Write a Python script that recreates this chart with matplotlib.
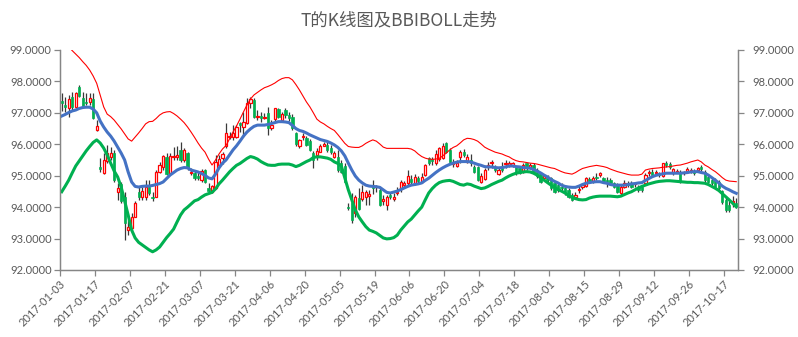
import numpy as np
import matplotlib
matplotlib.use("Agg")
import matplotlib.pyplot as plt

title = "T的K线图及BBIBOLL走势"

# one label every 10 trading days
tick_labels = ["2017-01-03", "2017-01-17", "2017-02-07", "2017-02-21", "2017-03-07",
               "2017-03-21", "2017-04-06", "2017-04-20", "2017-05-05", "2017-05-19",
               "2017-06-06", "2017-06-20", "2017-07-04", "2017-07-18", "2017-08-01",
               "2017-08-15", "2017-08-29", "2017-09-12", "2017-09-26", "2017-10-17"]

open_ = [97.39, 97.25, 97.14, 97.52, 97.20, 97.81, 97.46, 97.36, 97.33, 97.43,
         96.45, 95.29, 95.10, 95.48, 95.61, 95.73, 94.49, 94.74, 94.33, 93.27,
         93.33, 93.70, 94.49, 94.33, 94.31, 94.65, 94.33, 94.33, 95.13, 95.27,
         95.61, 95.10, 95.59, 95.59, 95.82, 95.50, 95.71, 95.08, 95.08, 95.00,
         94.86, 95.18, 94.62, 94.47, 94.60, 95.34, 95.55, 95.93, 96.23, 96.24,
         96.24, 96.67, 96.56, 96.67, 97.30, 97.41, 96.86, 96.91, 96.85, 96.99,
         96.51, 96.81, 97.12, 96.77, 97.09, 96.93, 96.88, 96.35, 95.93, 96.24,
         96.21, 96.11, 95.71, 95.66, 95.77, 95.96, 95.98, 95.87, 95.61, 95.61,
         95.39, 95.31, 94.02, 94.12, 93.80, 94.28, 94.25, 94.31, 94.36, 94.67,
         94.63, 94.53, 94.21, 94.07, 94.39, 94.25, 94.44, 94.57, 94.71, 94.76,
         94.89, 94.76, 94.92, 94.81, 95.02, 95.55, 95.52, 95.42, 95.52, 95.55,
         96.03, 95.82, 95.37, 95.31, 95.61, 95.77, 95.45, 95.50, 95.29, 95.29,
         94.81, 94.89, 95.29, 95.39, 95.29, 95.05, 95.24, 95.36, 95.35, 95.34,
         95.27, 95.24, 95.13, 95.39, 95.29, 95.34, 95.18, 95.08, 94.92, 94.97,
         94.92, 94.76, 94.71, 94.65, 94.60, 94.55, 94.39, 94.33, 94.53, 94.63,
         94.67, 94.89, 94.84, 94.97, 95.02, 94.92, 94.86, 94.86, 94.76, 94.71,
         94.44, 94.63, 94.78, 94.78, 94.73, 94.65, 94.65, 94.76, 95.08, 95.13,
         95.08, 95.08, 94.99, 95.42, 95.37, 95.08, 95.12, 95.13, 95.08, 95.16,
         95.14, 95.16, 95.18, 95.27, 95.13, 94.97, 94.86, 94.86, 94.81, 94.50,
         94.23, 94.07, 94.12, 94.12]

high = [97.62, 97.52, 97.57, 97.67, 97.67, 97.89, 97.67, 97.62, 97.62, 97.64,
        96.77, 95.55, 95.71, 95.98, 95.92, 95.82, 94.76, 94.81, 94.49, 93.59,
        93.80, 94.18, 94.65, 94.65, 94.86, 94.86, 94.49, 95.18, 95.45, 95.66,
        95.71, 95.71, 95.92, 95.95, 96.08, 95.87, 95.77, 95.24, 95.18, 95.11,
        95.21, 95.21, 94.76, 94.70, 95.66, 95.66, 95.74, 96.67, 96.40, 96.61,
        96.61, 96.70, 97.04, 97.46, 97.52, 97.46, 97.09, 97.04, 96.99, 97.20,
        96.77, 97.17, 97.17, 97.02, 97.14, 97.04, 96.95, 96.40, 96.17, 96.35,
        96.27, 96.17, 95.79, 95.89, 96.00, 96.08, 96.06, 95.98, 95.79, 95.82,
        95.50, 95.39, 94.12, 94.44, 94.39, 94.60, 94.70, 94.55, 94.55, 94.86,
        94.71, 94.60, 94.39, 94.39, 94.46, 94.44, 94.65, 94.86, 94.84, 95.18,
        95.02, 95.06, 94.99, 95.10, 95.37, 95.61, 95.61, 95.82, 95.90, 96.03,
        96.08, 95.87, 95.52, 95.50, 95.82, 95.84, 95.69, 95.68, 95.34, 95.31,
        95.08, 95.24, 95.45, 95.50, 95.34, 95.24, 95.45, 95.50, 95.48, 95.45,
        95.31, 95.29, 95.39, 95.42, 95.39, 95.39, 95.24, 95.13, 95.02, 95.02,
        94.97, 94.81, 94.76, 94.76, 94.65, 94.60, 94.44, 94.49, 94.71, 94.78,
        94.97, 94.97, 94.99, 95.08, 95.13, 94.97, 94.97, 94.92, 94.81, 94.76,
        94.71, 94.86, 94.84, 94.84, 94.81, 94.71, 94.71, 95.08, 95.18, 95.20,
        95.18, 95.13, 95.42, 95.48, 95.45, 95.24, 95.20, 95.18, 95.16, 95.27,
        95.24, 95.20, 95.29, 95.34, 95.18, 95.02, 94.92, 94.92, 94.86, 94.55,
        94.34, 94.18, 94.34, 94.29]

low = [97.07, 97.04, 96.86, 97.07, 97.14, 97.49, 97.20, 97.25, 97.25, 96.81,
       96.43, 95.13, 95.06, 95.39, 95.50, 94.81, 94.23, 94.12, 92.96, 93.11,
       93.27, 93.68, 94.23, 94.23, 94.23, 94.39, 94.18, 94.31, 95.08, 95.18,
       95.02, 95.08, 95.50, 95.50, 95.45, 95.45, 95.18, 95.02, 94.86, 94.86,
       94.81, 94.76, 94.49, 94.44, 94.58, 95.32, 95.36, 95.89, 96.17, 96.14,
       96.19, 96.40, 96.24, 96.64, 97.14, 96.85, 96.77, 96.72, 96.81, 96.30,
       96.45, 96.74, 96.83, 96.74, 96.83, 96.74, 96.45, 95.96, 95.89, 96.14,
       95.93, 95.79, 95.26, 95.50, 95.75, 95.93, 95.77, 95.68, 95.55, 95.13,
       95.08, 94.76, 93.91, 93.49, 93.70, 93.91, 94.21, 94.07, 94.07, 94.42,
       94.49, 94.04, 94.07, 93.91, 94.25, 94.18, 94.39, 94.49, 94.65, 94.71,
       94.74, 94.71, 94.78, 94.78, 94.99, 95.34, 95.34, 95.34, 95.48, 95.52,
       95.71, 95.39, 95.29, 95.29, 95.39, 95.61, 95.39, 95.31, 95.08, 94.84,
       94.78, 94.86, 95.18, 95.24, 95.13, 95.02, 95.13, 95.24, 95.29, 95.29,
       95.02, 95.05, 95.10, 95.18, 95.20, 95.06, 94.92, 94.78, 94.86, 94.76,
       94.55, 94.44, 94.49, 94.55, 94.39, 94.28, 94.18, 94.25, 94.44, 94.57,
       94.65, 94.76, 94.78, 94.86, 94.97, 94.76, 94.65, 94.70, 94.60, 94.46,
       94.39, 94.60, 94.65, 94.60, 94.65, 94.49, 94.49, 94.71, 94.99, 94.97,
       95.02, 94.97, 94.97, 95.29, 95.20, 95.02, 95.08, 94.78, 95.02, 95.10,
       95.10, 95.02, 95.13, 95.16, 94.81, 94.78, 94.71, 94.60, 94.55, 94.10,
       93.86, 93.86, 94.02, 93.96]

close = [97.30, 97.20, 97.43, 97.20, 97.62, 97.54, 97.23, 97.30, 97.46, 96.83,
         96.58, 95.22, 95.50, 95.73, 95.71, 94.86, 94.60, 94.21, 93.49, 93.38,
         93.70, 94.14, 94.33, 94.52, 94.65, 94.46, 94.29, 95.13, 95.34, 95.63,
         95.06, 95.63, 95.63, 95.65, 95.50, 95.82, 95.24, 95.12, 94.92, 94.92,
         95.15, 94.81, 94.51, 94.68, 95.45, 95.52, 95.68, 96.35, 96.27, 96.35,
         96.56, 96.61, 96.70, 97.30, 97.44, 96.88, 96.89, 96.83, 96.88, 96.51,
         96.61, 97.14, 96.88, 96.95, 96.93, 96.85, 96.51, 96.00, 96.14, 96.27,
         95.98, 95.82, 95.50, 95.79, 95.93, 96.00, 95.82, 95.75, 95.71, 95.18,
         95.13, 94.81, 93.96, 93.59, 94.31, 93.93, 94.49, 94.49, 94.42, 94.61,
         94.67, 94.07, 94.25, 94.31, 94.31, 94.31, 94.49, 94.81, 94.76, 94.99,
         94.81, 94.97, 94.84, 94.97, 95.34, 95.39, 95.48, 95.69, 95.87, 95.93,
         95.77, 95.45, 95.45, 95.42, 95.77, 95.66, 95.61, 95.40, 95.13, 94.86,
         94.99, 95.18, 95.34, 95.44, 95.18, 95.18, 95.18, 95.42, 95.39, 95.39,
         95.08, 95.08, 95.34, 95.24, 95.34, 95.08, 94.99, 94.81, 94.99, 94.86,
         94.60, 94.49, 94.55, 94.60, 94.44, 94.33, 94.23, 94.39, 94.59, 94.70,
         94.92, 94.84, 94.92, 94.92, 95.08, 94.81, 94.81, 94.76, 94.65, 94.49,
         94.65, 94.78, 94.71, 94.65, 94.76, 94.55, 94.55, 95.02, 95.11, 95.02,
         95.13, 95.03, 95.40, 95.34, 95.29, 95.20, 95.16, 94.81, 95.13, 95.20,
         95.18, 95.08, 95.24, 95.20, 94.86, 94.81, 94.76, 94.65, 94.60, 94.15,
         93.91, 93.91, 94.18, 94.04]

# BBI middle line and the two BOLL bands around it
bbi = [96.90, 96.95, 97.01, 97.06, 97.09, 97.14, 97.17, 97.18, 97.18, 97.12,
       97.00, 96.74, 96.55, 96.39, 96.26, 96.10, 95.91, 95.72, 95.50, 95.12,
       94.80, 94.66, 94.64, 94.66, 94.67, 94.67, 94.69, 94.72, 94.75, 94.80,
       94.91, 95.02, 95.10, 95.18, 95.23, 95.26, 95.25, 95.18, 95.15, 95.12,
       95.07, 95.01, 94.93, 94.90, 95.05, 95.25, 95.40, 95.50, 95.66, 95.82,
       95.95, 96.10, 96.26, 96.39, 96.49, 96.57, 96.61, 96.61, 96.61, 96.63,
       96.66, 96.69, 96.72, 96.72, 96.71, 96.69, 96.60, 96.50, 96.44, 96.41,
       96.36, 96.30, 96.25, 96.20, 96.15, 96.12, 96.09, 96.04, 95.98, 95.90,
       95.79, 95.63, 95.40, 95.18, 94.99, 94.86, 94.77, 94.70, 94.67, 94.66,
       94.65, 94.63, 94.55, 94.47, 94.45, 94.48, 94.51, 94.56, 94.61, 94.66,
       94.70, 94.72, 94.74, 94.77, 94.85, 94.92, 95.01, 95.10, 95.18, 95.25,
       95.31, 95.36, 95.40, 95.43, 95.45, 95.45, 95.45, 95.44, 95.40, 95.36,
       95.33, 95.29, 95.28, 95.28, 95.26, 95.25, 95.26, 95.28, 95.31, 95.31,
       95.29, 95.28, 95.26, 95.25, 95.24, 95.20, 95.15, 95.09, 95.02, 94.96,
       94.88, 94.82, 94.77, 94.70, 94.66, 94.64, 94.63, 94.63, 94.67, 94.72,
       94.76, 94.78, 94.80, 94.81, 94.81, 94.78, 94.76, 94.72, 94.70, 94.70,
       94.70, 94.70, 94.72, 94.74, 94.75, 94.77, 94.78, 94.85, 94.91, 94.97,
       95.01, 95.04, 95.06, 95.08, 95.08, 95.08, 95.08, 95.08, 95.09, 95.10,
       95.12, 95.13, 95.13, 95.10, 95.08, 95.02, 94.94, 94.86, 94.77, 94.67,
       94.60, 94.55, 94.49, 94.44]

upper = [99.32, 99.21, 99.10, 98.98, 98.87, 98.76, 98.63, 98.51, 98.36, 98.17,
         97.94, 97.57, 97.19, 96.96, 96.88, 96.77, 96.63, 96.49, 96.33, 96.17,
         96.10, 96.23, 96.36, 96.50, 96.65, 96.72, 96.73, 96.82, 96.93, 97.00,
         97.03, 97.04, 96.98, 96.90, 96.80, 96.69, 96.55, 96.39, 96.22, 96.04,
         95.88, 95.75, 95.53, 95.34, 95.50, 95.69, 95.85, 95.96, 96.17, 96.39,
         96.58, 96.80, 97.03, 97.25, 97.44, 97.57, 97.65, 97.73, 97.80, 97.84,
         97.89, 97.95, 98.03, 98.09, 98.12, 98.12, 98.05, 97.90, 97.73, 97.54,
         97.35, 97.19, 97.00, 96.80, 96.71, 96.65, 96.57, 96.50, 96.44, 96.31,
         96.17, 96.03, 95.93, 95.91, 95.90, 95.90, 95.95, 96.03, 96.09, 96.14,
         96.10, 96.01, 95.91, 95.87, 95.87, 95.87, 95.87, 95.87, 95.87, 95.87,
         95.85, 95.79, 95.69, 95.61, 95.56, 95.53, 95.52, 95.53, 95.55, 95.63,
         95.72, 95.82, 95.90, 95.95, 96.04, 96.14, 96.19, 96.18, 96.15, 96.10,
         96.01, 95.91, 95.85, 95.80, 95.75, 95.72, 95.69, 95.64, 95.60, 95.53,
         95.48, 95.45, 95.44, 95.42, 95.40, 95.39, 95.37, 95.34, 95.31, 95.28,
         95.25, 95.23, 95.18, 95.13, 95.09, 95.07, 95.05, 95.10, 95.17, 95.23,
         95.26, 95.29, 95.31, 95.33, 95.31, 95.29, 95.26, 95.21, 95.17, 95.13,
         95.10, 95.07, 95.04, 95.02, 95.02, 95.02, 95.05, 95.18, 95.21, 95.23,
         95.24, 95.25, 95.27, 95.28, 95.29, 95.31, 95.33, 95.34, 95.37, 95.40,
         95.44, 95.47, 95.50, 95.44, 95.34, 95.28, 95.20, 95.13, 95.04, 94.94,
         94.86, 94.83, 94.82, 94.81]

lower = [94.49, 94.67, 94.86, 95.09, 95.31, 95.47, 95.63, 95.79, 95.93, 96.06,
         96.14, 96.04, 95.88, 95.66, 95.40, 95.15, 94.96, 94.64, 94.20, 93.75,
         93.27, 93.02, 92.88, 92.80, 92.72, 92.64, 92.58, 92.64, 92.73, 92.88,
         93.03, 93.16, 93.30, 93.53, 93.75, 93.91, 94.00, 94.10, 94.20, 94.24,
         94.32, 94.39, 94.43, 94.47, 94.58, 94.74, 94.86, 94.99, 95.12, 95.23,
         95.33, 95.39, 95.47, 95.55, 95.61, 95.58, 95.53, 95.45, 95.39, 95.34,
         95.33, 95.33, 95.36, 95.37, 95.37, 95.37, 95.34, 95.29, 95.33, 95.39,
         95.45, 95.50, 95.58, 95.60, 95.60, 95.58, 95.56, 95.52, 95.44, 95.39,
         95.31, 94.93, 94.55, 94.23, 93.91, 93.69, 93.53, 93.38, 93.27, 93.23,
         93.18, 93.10, 93.02, 92.99, 93.00, 93.03, 93.11, 93.27, 93.40, 93.53,
         93.62, 93.75, 93.88, 94.00, 94.23, 94.45, 94.59, 94.70, 94.78, 94.82,
         94.84, 94.85, 94.82, 94.77, 94.72, 94.70, 94.74, 94.72, 94.67, 94.63,
         94.59, 94.61, 94.66, 94.72, 94.77, 94.82, 94.86, 94.93, 94.99, 95.04,
         95.08, 95.10, 95.12, 95.13, 95.12, 95.08, 95.02, 94.94, 94.86, 94.78,
         94.70, 94.63, 94.56, 94.51, 94.45, 94.37, 94.31, 94.27, 94.24, 94.23,
         94.24, 94.29, 94.32, 94.34, 94.35, 94.35, 94.35, 94.35, 94.34, 94.33,
         94.35, 94.40, 94.45, 94.49, 94.55, 94.61, 94.66, 94.70, 94.74, 94.77,
         94.80, 94.82, 94.83, 94.84, 94.84, 94.83, 94.82, 94.81, 94.80, 94.79,
         94.79, 94.78, 94.78, 94.77, 94.76, 94.72, 94.66, 94.60, 94.53, 94.43,
         94.33, 94.23, 94.12, 94.01]

RED = "#FF0000"
GREEN = "#00B050"
BLUE = "#4472C4"
TEXT = "#595959"
AXIS = "#868686"

o = np.array(open_)
h = np.array(high)
l = np.array(low)
c = np.array(close)
n = len(c)
x = np.arange(n)
rising = c >= o

fig = plt.figure(figsize=(7.98, 3.37), dpi=100)
ax = fig.add_axes([60 / 798, 1 - 270 / 337, 678 / 798, 220 / 337])

# candles: wicks first, then bodies (rising = hollow red, falling = solid green)
ax.vlines(x, l, h, color="#3a3a3a", linewidth=0.9, zorder=2)
body_low = np.minimum(o, c)
body_h = np.maximum(np.abs(c - o), 0.015)
ax.bar(x[rising], body_h[rising], bottom=body_low[rising], width=0.64,
       facecolor="white", edgecolor=RED, linewidth=0.9, zorder=3)
ax.bar(x[~rising], body_h[~rising], bottom=body_low[~rising], width=0.64,
       facecolor=GREEN, edgecolor=GREEN, linewidth=0.5, zorder=3)

# BBIBOLL lines
ax.plot(x, upper, color=RED, linewidth=0.8, zorder=4)
ax.plot(x, lower, color=GREEN, linewidth=2.2, zorder=4)
ax.plot(x, bbi, color=BLUE, linewidth=2.2, zorder=5)

ax.set_xlim(-0.5, n - 0.5)
ax.set_ylim(92, 99)
yt = np.arange(92, 99.5, 1.0)
ax.set_yticks(yt)
ax.set_yticklabels([f"{v:.4f}" for v in yt])

pos = np.arange(len(tick_labels)) * 10 - 0.5
ax.set_xticks(pos)
ax.set_xticklabels(tick_labels, rotation=45, ha="right", va="top",
                   rotation_mode="anchor")

ax2 = ax.twinx()
ax2.set_ylim(92, 99)
ax2.set_yticks(yt)
ax2.set_yticklabels([f"{v:.4f}" for v in yt])

for a in (ax, ax2):
    a.spines["top"].set_visible(False)
    for s in ("left", "right", "bottom"):
        a.spines[s].set_color(AXIS)
        a.spines[s].set_linewidth(0.9)
    a.tick_params(axis="both", colors=AXIS, length=4, width=0.9,
                  labelcolor=TEXT, labelsize=8)
    for t in a.get_yticklabels() + a.get_xticklabels():
        t.set_fontfamily("Lato")
ax.tick_params(axis="y", pad=2)
ax2.tick_params(axis="y", pad=6)
ax.tick_params(axis="x", pad=2)

fig.text(0.5, 1 - 20 / 337, title, ha="center", va="center", fontsize=12.5,
         color=TEXT, family=["Noto Sans CJK SC", "DejaVu Sans"])

fig.savefig("out.png", dpi=100)
